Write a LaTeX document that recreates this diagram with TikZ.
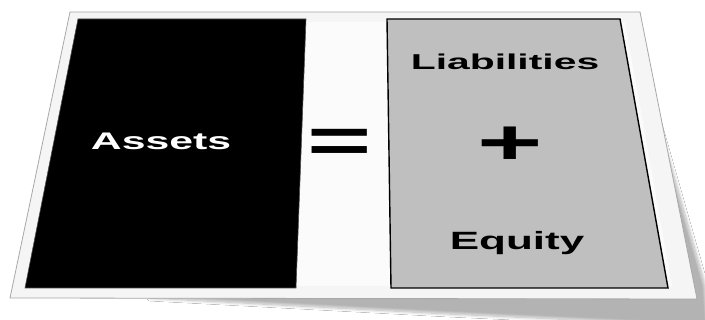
\documentclass[tikz,border=0pt]{standalone}
\usepackage{fontspec}
\setmainfont{Liberation Sans}
\usetikzlibrary{calc,shadows.blur}
\definecolor{cardfill}{HTML}{F5F5F5}
\definecolor{cardline}{HTML}{A8A8A8}
\definecolor{panelgray}{HTML}{BFBFBF}
\tikzset{
  lbl/.style={inner sep=0pt, font=\bfseries},
}
\begin{document}
\begin{tikzpicture}[x=1pt,y=-1pt]
\useasboundingbox (0,0) rectangle (705,320);
\fill[white] (0,0) rectangle (705,320);
% shadow
\path[blur shadow={shadow xshift=0pt, shadow yshift=0pt, shadow blur radius=3pt, shadow blur steps=10, shadow opacity=30}]
  (150,298) -- (655,110) -- (705,285) -- (708,326) -- (450,314) -- cycle;
% card
\coordinate (cTL) at (70,12);
\coordinate (cTR) at (640,12);
\coordinate (cBR) at (697,299);
\coordinate (cBL) at (10,298);
\draw[cardline, fill=cardfill, line width=0.8pt] (cTL) -- (cTR) -- (cBR) -- (cBL) -- cycle;
\fill[white!60!cardfill] (82,22) -- (625,22) -- (672,286) -- (30,286) -- cycle;
% assets panel
\coordinate (aTL) at (78,19);
\coordinate (aTR) at (306,19);
\coordinate (aBR) at (296,288);
\coordinate (aBL) at (25,288);
\draw[black!70, fill=black, line width=0.6pt] (aTL) -- (aTR) -- (aBR) -- (aBL) -- cycle;
% liabilities+equity panel
\coordinate (lTL) at (387,19);
\coordinate (lTR) at (620,19);
\coordinate (lBR) at (668,288);
\coordinate (lBL) at (391,288);
\draw[black, fill=panelgray, line width=1.4pt] (lTL) -- (lTR) -- (lBR) -- (lBL) -- cycle;
% texts
\node[lbl, text=white, anchor=base] (assets) at (161,150) {\fontsize{24}{26}\selectfont\scalebox{1.78}[1]{Assets}};
\node[lbl, anchor=base] (liab) at (505,70) {\fontsize{21.5}{24}\selectfont\scalebox{1.9}[1]{Liabilities}};
\node[lbl, anchor=base] (equity) at (517,250) {\fontsize{25}{28}\selectfont\scalebox{1.76}[1]{Equity}};
\node[lbl, anchor=base] (eq) at (340,163) {\fontsize{58}{60}\selectfont\scalebox{1.9}[1.1]{=}};
\node[lbl, anchor=base] (plus) at (510,165) {\fontsize{64}{66}\selectfont\scalebox{1.75}[1]{+}};
\end{tikzpicture}
\end{document}
